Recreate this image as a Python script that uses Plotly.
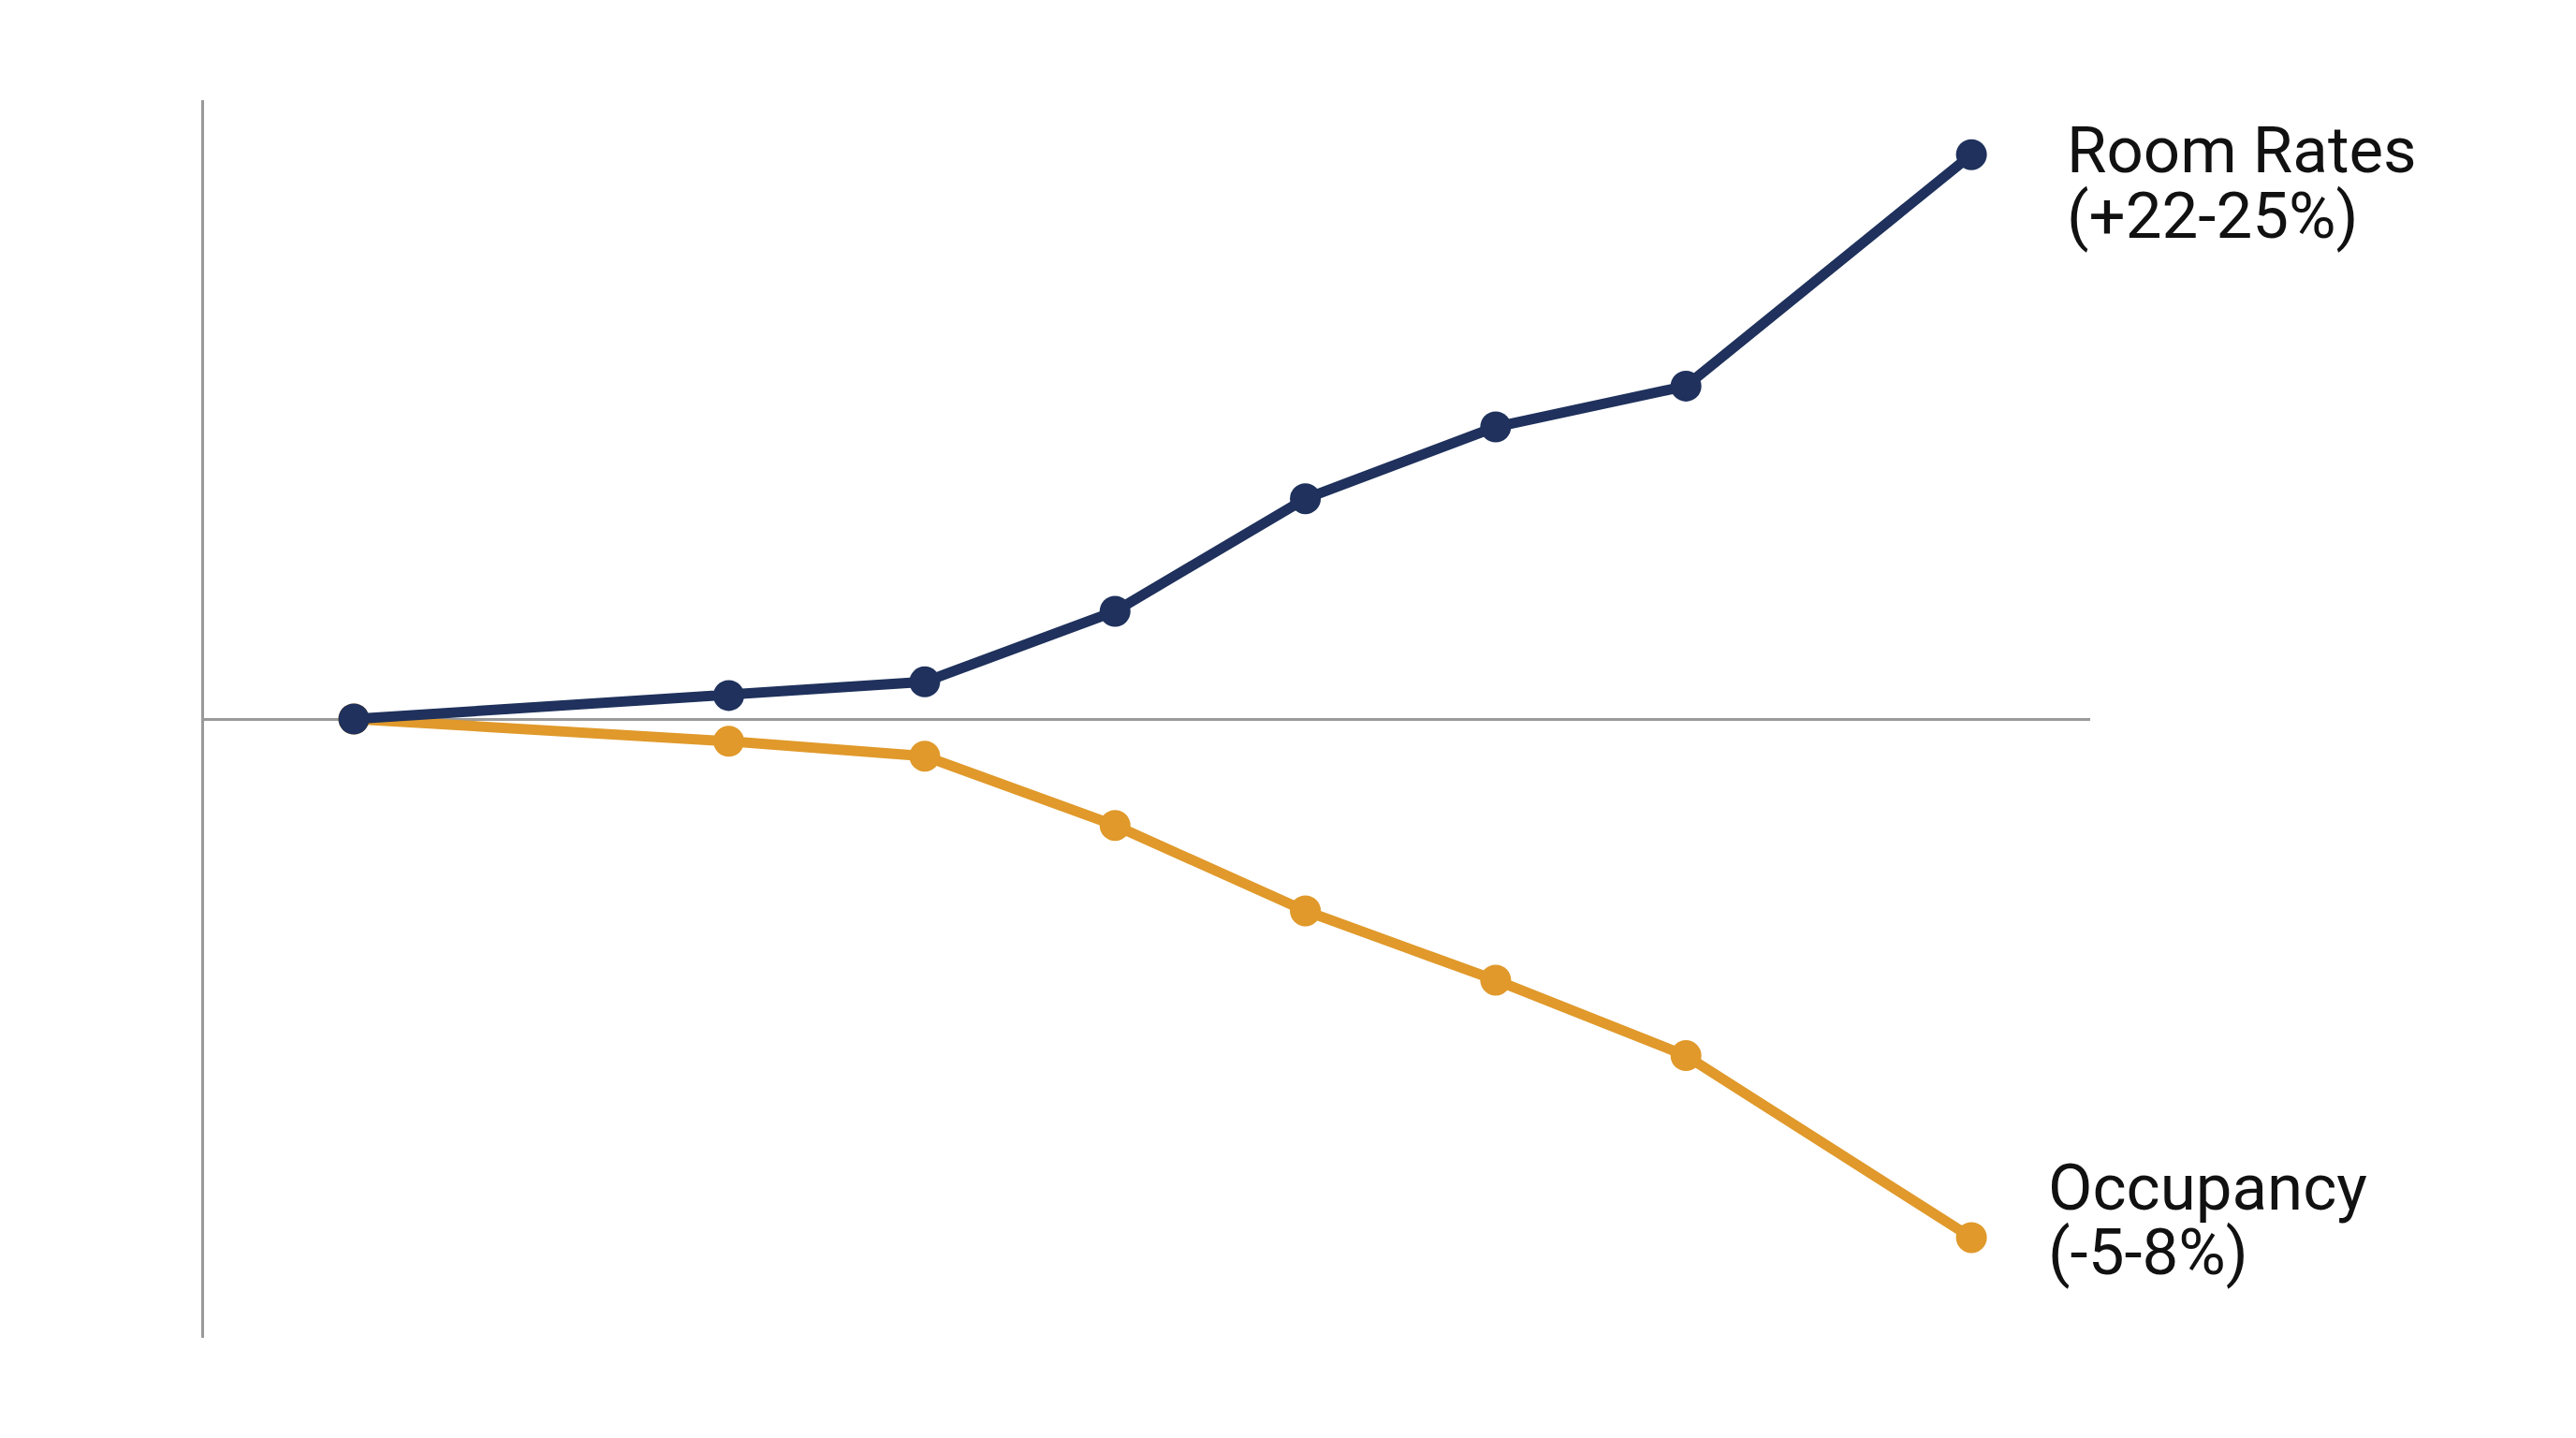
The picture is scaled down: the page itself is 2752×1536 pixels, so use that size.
import plotly.graph_objects as go

# period index (no tick labels shown in the chart)
periods = [0, 1.97, 3, 4, 5, 6, 7, 8.5]

# relative change, index units
room_rates = [0, 0.95, 1.5, 4.35, 8.9, 11.8, 13.45, 22.8]
occupancy = [0, -0.9, -1.5, -4.3, -7.75, -10.55, -13.6, -20.95]

series_labels = [
    ("Room Rates", "(+22-25%)"),
    ("Occupancy", "(-5-8%)"),
]

NAVY = "#1F315C"
GOLD = "#E0992A"
AXIS_GREY = "#9A9A9A"

fig = go.Figure()

# occupancy first so the navy start marker sits on top
fig.add_trace(go.Scatter(
    x=periods, y=occupancy, mode="lines+markers",
    line=dict(color=GOLD, width=11),
    marker=dict(color=GOLD, size=33),
    hoverinfo="skip", showlegend=False,
))
fig.add_trace(go.Scatter(
    x=periods, y=room_rates, mode="lines+markers",
    line=dict(color=NAVY, width=11),
    marker=dict(color=NAVY, size=33),
    hoverinfo="skip", showlegend=False,
))

# end-of-line labels, one annotation per text line (tight line spacing)
label_font = dict(family="Roboto, Arial, sans-serif", size=69, color="#111111")
ends = [(room_rates[-1], 100, [5, -65]), (occupancy[-1], 80, [53, -16])]
for (lines, (y_end, dx, dys)) in zip(series_labels, ends):
    for txt, dy in zip(lines, dys):
        fig.add_annotation(
            x=periods[-1], y=y_end, text=txt, showarrow=False,
            xanchor="left", yanchor="middle", xshift=dx, yshift=dy,
            font=label_font,
        )

fig.update_xaxes(
    range=[-0.787, 9.124], showgrid=False, zeroline=False,
    showticklabels=False, showline=False,
)
fig.update_yaxes(
    range=[-25, 25], showgrid=False, showticklabels=False,
    zeroline=True, zerolinecolor=AXIS_GREY, zerolinewidth=2.5,
    showline=True, linecolor=AXIS_GREY, linewidth=2.5, mirror=False,
)
# page body adds an 8px offset, so margins are trimmed to match
fig.update_layout(
    width=2752, height=1536,
    margin=dict(l=210, r=527, t=99, b=115),
    plot_bgcolor="white", paper_bgcolor="white",
)

fig.write_html("out.html")
